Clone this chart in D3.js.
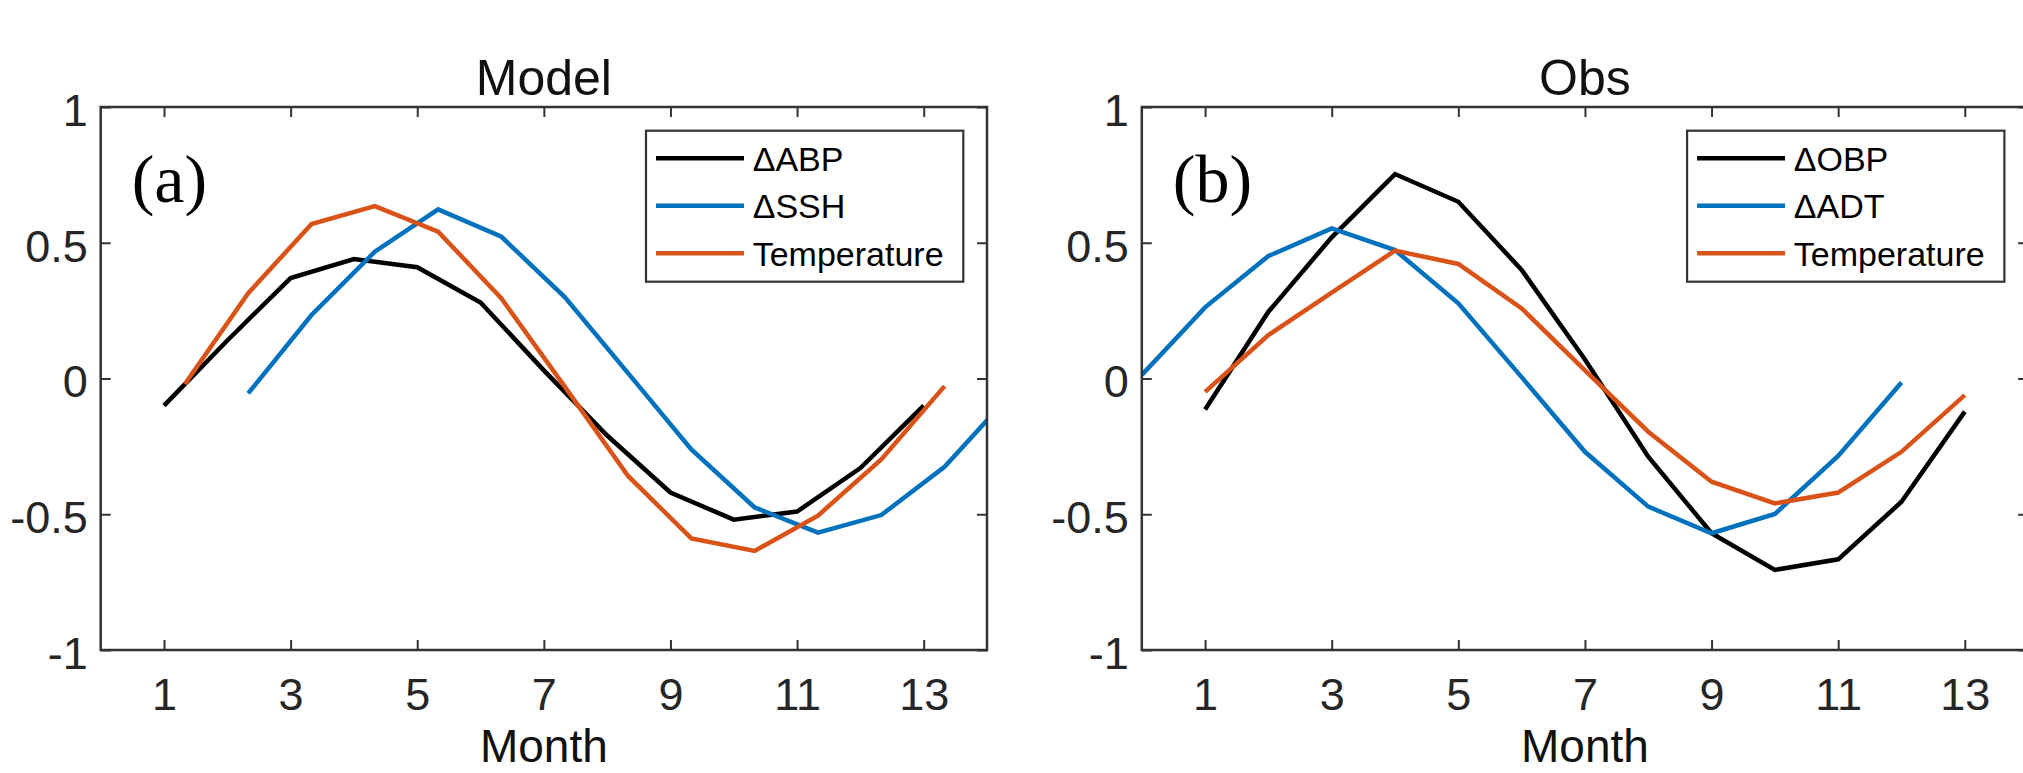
<!DOCTYPE html>
<html>
<head>
  <meta charset="utf-8">
  <title>Model vs Obs</title>
  <script src="https://cdn.jsdelivr.net/npm/d3@7"></script>
  <style type="text/css">
  body {
    margin: 0;
    background: #fff;
  }
  .box {
    fill: none;
    stroke: #333;
    stroke-width: 2.5;
  }
  .axis path.domain {
    display: none;
  }
  .axis line {
    stroke: #333;
    stroke-width: 2;
  }
  .axis text {
    font-family: "Liberation Sans", Arial, sans-serif;
    font-size: 45px;
    fill: #262626;
  }
  .title, .xlabel {
    font-family: "Liberation Sans", Arial, sans-serif;
    font-size: 50px;
    fill: #111;
    text-anchor: middle;
  }
  .xlabel {
    font-size: 46px;
  }
  .tag {
    font-family: "Liberation Serif", "Times New Roman", serif;
    font-size: 68px;
    fill: #000;
  }
  .series {
    fill: none;
    stroke-width: 4.5;
    stroke-linejoin: miter;
    stroke-linecap: butt;
  }
  .legend rect {
    fill: #fff;
    stroke: #333;
    stroke-width: 2.2;
  }
  .legend text {
    font-family: "Liberation Sans", Arial, sans-serif;
    font-size: 34px;
    fill: #000;
  }
  </style>
</head>
<body>
  <div id="chart"></div>
<script>
var width = 2023,
    height = 773;

// month positions and normalised values
var modelAbpMonth  = [1, 2, 3, 4, 5, 6, 7, 8, 9, 10, 11, 12, 13];
var modelAbp       = [-0.10, 0.14, 0.37, 0.44, 0.41, 0.28, 0.03, -0.21, -0.42, -0.52, -0.49, -0.33, -0.10];
var modelSshMonth  = [2.33, 3.33, 4.33, 5.33, 6.33, 7.33, 8.33, 9.33, 10.33, 11.33, 12.33, 13.33, 14.33];
var modelSsh       = [-0.055, 0.234, 0.467, 0.623, 0.522, 0.30, 0.02, -0.261, -0.475, -0.568, -0.503, -0.325, -0.07];
var modelTempMonth = [1.33, 2.33, 3.33, 4.33, 5.33, 6.33, 7.33, 8.33, 9.33, 10.33, 11.33, 12.33, 13.33];
var modelTemp      = [-0.02, 0.314, 0.569, 0.635, 0.541, 0.295, -0.03, -0.359, -0.589, -0.635, -0.505, -0.298, -0.028];

var obsObpMonth    = [1, 2, 3, 4, 5, 6, 7, 8, 9, 10, 11, 12, 13];
var obsObp         = [-0.114, 0.246, 0.52, 0.753, 0.651, 0.40, 0.07, -0.288, -0.57, -0.705, -0.666, -0.454, -0.122];
var obsAdtMonth    = [0, 1, 2, 3, 4, 5, 6, 7, 8, 9, 10, 11, 12];
var obsAdt         = [0.013, 0.262, 0.451, 0.553, 0.473, 0.277, 0.005, -0.27, -0.472, -0.57, -0.499, -0.285, -0.015];
var obsTempMonth   = [1, 2, 3, 4, 5, 6, 7, 8, 9, 10, 11, 12, 13];
var obsTemp        = [-0.049, 0.16, 0.316, 0.471, 0.422, 0.258, 0.03, -0.196, -0.38, -0.46, -0.42, -0.27, -0.061];

var xTicks = [1, 3, 5, 7, 9, 11, 13];
var yTicks = [-1, -0.5, 0, 0.5, 1];
var colors = ["#000000", "#0072BD", "#D95319"];

var panels = [
  {
    title: "Model", tag: "(a)", left: 100.7,
    names: ["\u0394ABP", "\u0394SSH", "Temperature"],
    months: [modelAbpMonth, modelSshMonth, modelTempMonth],
    values: [modelAbp, modelSsh, modelTemp]
  },
  {
    title: "Obs", tag: "(b)", left: 1141.8,
    names: ["\u0394OBP", "\u0394ADT", "Temperature"],
    months: [obsObpMonth, obsAdtMonth, obsTempMonth],
    values: [obsObp, obsAdt, obsTemp]
  }
];

var plotW = 886.3,
    plotTop = 107,
    plotBottom = 650;

var svg = d3.select("#chart").append("svg")
            .attr("width", width)
            .attr("height", height);

svg.append("rect")
   .attr("width", width)
   .attr("height", height)
   .attr("fill", "#fff");

var y = d3.scaleLinear().domain([-1, 1]).range([plotBottom, plotTop]);

panels.forEach(function(p, i) {
  var x = d3.scaleLinear().domain([0, 14]).range([p.left, p.left + plotW]);
  var g = svg.append("g").attr("class", "panel");

  var clipId = "clip" + i;
  svg.append("clipPath").attr("id", clipId)
     .append("rect")
     .attr("x", p.left).attr("y", plotTop)
     .attr("width", plotW).attr("height", plotBottom - plotTop);

  // series, drawn in plot order
  var line = d3.line()
               .x(function(d) { return x(d[0]); })
               .y(function(d) { return y(d[1]); });

  var series = p.values.map(function(vals, k) {
    return vals.map(function(v, j) { return [p.months[k][j], v]; });
  });

  g.append("g").attr("clip-path", "url(#" + clipId + ")")
   .selectAll("path")
   .data(series)
   .enter().append("path")
   .attr("class", "series")
   .attr("stroke", function(d, k) { return colors[k]; })
   .attr("d", line);

  // axes with inward ticks on all four sides
  var fmt = function(d) { return String(d); };

  g.append("g").attr("class", "axis")
   .attr("transform", "translate(0," + plotBottom + ")")
   .call(d3.axisBottom(x).tickValues(xTicks).tickSizeInner(-10).tickSizeOuter(0)
           .tickPadding(28).tickFormat(fmt));

  g.append("g").attr("class", "axis")
   .attr("transform", "translate(0," + plotTop + ")")
   .call(d3.axisTop(x).tickValues(xTicks).tickSizeInner(-10).tickSizeOuter(0)
           .tickFormat(""));

  var yl = g.append("g").attr("class", "axis")
   .attr("transform", "translate(" + p.left + ",0)")
   .call(d3.axisLeft(y).tickValues(yTicks).tickSizeInner(-10).tickSizeOuter(0)
           .tickPadding(13).tickFormat(fmt));
  yl.selectAll("text").attr("dy", "0.41em");

  g.append("g").attr("class", "axis")
   .attr("transform", "translate(" + (p.left + plotW) + ",0)")
   .call(d3.axisRight(y).tickValues(yTicks).tickSizeInner(-10).tickSizeOuter(0)
           .tickFormat(""));

  g.append("rect").attr("class", "box")
   .attr("x", p.left).attr("y", plotTop)
   .attr("width", plotW).attr("height", plotBottom - plotTop);

  // title, x label and panel tag
  g.append("text").attr("class", "title")
   .attr("x", p.left + plotW / 2).attr("y", 95)
   .text(p.title);

  // the original label runs off the bottom edge; keep it just inside
  g.append("text").attr("class", "xlabel")
   .attr("x", p.left + plotW / 2).attr("y", 762)
   .text("Month");

  g.append("text").attr("class", "tag")
   .attr("x", p.left + 31).attr("y", 202)
   .text(p.tag);

  // legend
  var lx = p.left + 545.3,
      ly = 130.7;
  var lg = g.append("g").attr("class", "legend");
  lg.append("rect")
    .attr("x", lx).attr("y", ly)
    .attr("width", 317.3).attr("height", 151);

  var rows = lg.selectAll("g.row")
               .data(p.names)
               .enter().append("g")
               .attr("class", "row")
               .attr("transform", function(d, k) {
                 return "translate(" + lx + "," + (ly + 27.6 + k * 47.5) + ")";
               });
  rows.append("line")
      .attr("x1", 10).attr("x2", 98)
      .attr("y1", 0).attr("y2", 0)
      .attr("stroke", function(d, k) { return colors[k]; })
      .attr("stroke-width", 4.5);
  rows.append("text")
      .attr("x", 106.7).attr("y", 12.3)
      .text(function(d) { return d; });
});
</script>
</body>
</html>
